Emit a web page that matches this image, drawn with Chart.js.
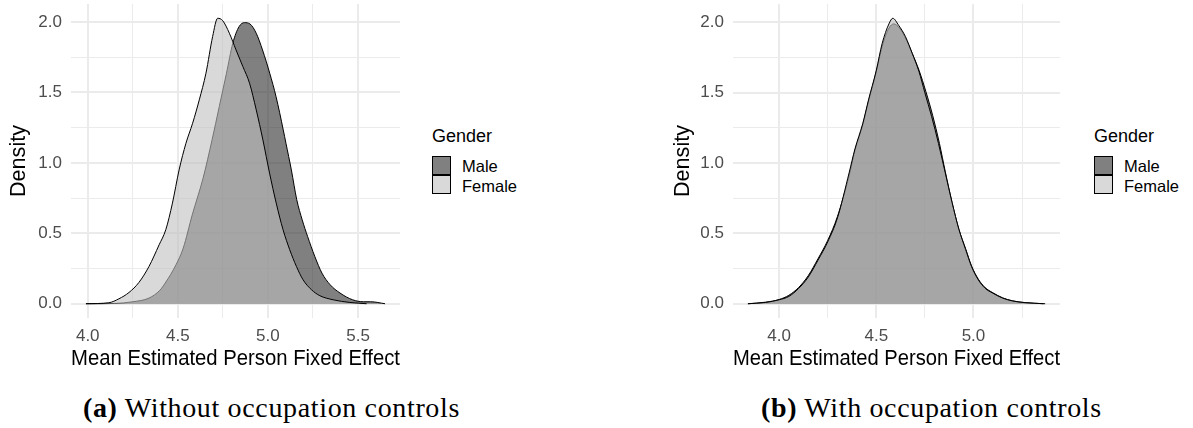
<!DOCTYPE html>
<html>
<head>
<meta charset="utf-8">
<script src="https://cdn.jsdelivr.net/npm/chart.js@4/dist/chart.umd.min.js"></script>
<style>
  html, body { margin: 0; padding: 0; background: #fff; }
  body { width: 1193px; height: 428px; position: relative; overflow: hidden;
         font-family: "Liberation Sans", Arial, sans-serif; }
  canvas.panel { position: absolute; top: 0; }
  .lg { position: absolute; line-height: 1; white-space: nowrap; color: #000; }
  .lg-title { font-size: 18px; }
  .lg-label { font-size: 16.5px; }
  .key { position: absolute; width: 17px; height: 17px; border: 1px solid #000; }
  .cap { position: absolute; font-family: "Liberation Serif", "Times New Roman", serif;
         font-size: 28px; letter-spacing: 0.65px; line-height: 1; white-space: nowrap; color: #000; }
  .cap b { font-weight: bold; }
</style>
</head>
<body>
<canvas id="panelA" class="panel" width="400" height="380" style="left:0px"></canvas>
<canvas id="panelB" class="panel" width="396" height="380" style="left:664px"></canvas>

<!-- legend, panel (a) -->
<div class="lg lg-title" style="left:432px; top:127px">Gender</div>
<div class="key" id="keyMaleA" style="left:432px; top:156px"></div>
<div class="key" id="keyFemaleA" style="left:432px; top:175px"></div>
<div class="lg lg-label" style="left:462px; top:158px">Male</div>
<div class="lg lg-label" style="left:462px; top:178px">Female</div>

<!-- legend, panel (b) -->
<div class="lg lg-title" style="left:1094px; top:127px">Gender</div>
<div class="key" id="keyMaleB" style="left:1094px; top:156px"></div>
<div class="key" id="keyFemaleB" style="left:1094px; top:175px"></div>
<div class="lg lg-label" style="left:1124px; top:158px">Male</div>
<div class="lg lg-label" style="left:1124px; top:178px">Female</div>

<div class="cap" style="left:83px; top:394px"><b>(a)</b> Without occupation controls</div>
<div class="cap" style="left:761px; top:394px"><b>(b)</b> With occupation controls</div>

<script>
// Kernel density estimates of mean person fixed effects, by gender.
// (a) without occupation controls
const maleXA = [3.99, 4.15, 4.25, 4.34, 4.40, 4.43, 4.49, 4.53, 4.58, 4.64, 4.69, 4.73, 4.77, 4.805,
                4.84, 4.87, 4.90, 4.935, 4.97, 5.01, 5.045, 5.085, 5.10, 5.13, 5.16, 5.19, 5.22, 5.26,
                5.30, 5.345, 5.40, 5.47, 5.53, 5.57, 5.65];
const maleYA = [0, 0.002, 0.014, 0.040, 0.095, 0.147, 0.277, 0.395, 0.631, 0.891, 1.163, 1.400, 1.636, 1.849,
                1.967, 1.995, 1.986, 1.920, 1.801, 1.636, 1.470, 1.234, 1.139, 0.950, 0.738, 0.596, 0.478, 0.336,
                0.217, 0.135, 0.076, 0.028, 0.014, 0.014, 0];
const femaleXA = [3.99, 4.117, 4.173, 4.229, 4.284, 4.34, 4.396, 4.433, 4.47, 4.507, 4.545, 4.582, 4.619,
                  4.656, 4.693, 4.721, 4.749, 4.786, 4.823, 4.861, 4.898, 4.935, 4.972, 5.009, 5.046, 5.084,
                  5.121, 5.158, 5.195, 5.242, 5.288, 5.362, 5.455, 5.548];
const femaleYA = [0, 0.007, 0.035, 0.08, 0.151, 0.265, 0.418, 0.525, 0.714, 0.95, 1.139, 1.281, 1.447,
                  1.636, 1.896, 2.026, 2.009, 1.92, 1.801, 1.683, 1.565, 1.376, 1.163, 0.927, 0.714, 0.525,
                  0.383, 0.265, 0.17, 0.099, 0.057, 0.028, 0.009, 0];

// (b) with occupation controls
const maleXB = [3.84, 3.93, 4.0, 4.05, 4.10, 4.15, 4.20, 4.25, 4.30, 4.36, 4.39, 4.43, 4.46, 4.50, 4.53,
                4.565, 4.59, 4.62, 4.65, 4.685, 4.72, 4.755, 4.79, 4.825, 4.855, 4.89, 4.925, 4.96, 4.99,
                5.025, 5.06, 5.10, 5.15, 5.20, 5.26, 5.36];
const maleYB = [0, 0.011, 0.03, 0.06, 0.115, 0.2, 0.32, 0.45, 0.62, 0.91, 1.09, 1.27, 1.44, 1.65, 1.83,
                1.96, 1.99, 1.96, 1.89, 1.78, 1.66, 1.51, 1.34, 1.14, 0.94, 0.72, 0.53, 0.39, 0.27,
                0.175, 0.115, 0.078, 0.042, 0.021, 0.009, 0];
const femaleXB = [3.839, 3.93, 4.0, 4.05, 4.10, 4.15, 4.20, 4.25, 4.30, 4.36, 4.39, 4.43, 4.46, 4.50, 4.53,
                  4.565, 4.585, 4.615, 4.65, 4.685, 4.72, 4.75, 4.785, 4.82, 4.855, 4.89, 4.925, 4.96, 4.99,
                  5.025, 5.06, 5.10, 5.15, 5.20, 5.26, 5.369];
const femaleYB = [0, 0.009, 0.028, 0.052, 0.108, 0.19, 0.31, 0.44, 0.61, 0.93, 1.10, 1.28, 1.45, 1.66, 1.85,
                  1.99, 2.03, 1.98, 1.90, 1.78, 1.65, 1.50, 1.33, 1.14, 0.93, 0.72, 0.53, 0.385, 0.265,
                  0.17, 0.11, 0.075, 0.04, 0.02, 0.008, 0];

// axis breaks
const xMajorA = [4.0, 4.5, 5.0, 5.5];
const xMinorA = [4.25, 4.75, 5.25];
const xMajorB = [4.0, 4.5, 5.0];
const xMinorB = [4.25, 4.75, 5.25];
const yMajor = [0.0, 0.5, 1.0, 1.5, 2.0];
const yMinor = [0.25, 0.75, 1.25, 1.75];

const MALE_FILL = 'rgba(43,43,43,0.6)';
const FEMALE_FILL = 'rgba(192,192,192,0.6)';
const GRID = '#ebebeb';
const TICK_FONT = { family: '"Liberation Sans", Arial, sans-serif', size: 17 };
const TITLE_FONT = { family: '"Liberation Sans", Arial, sans-serif', size: 21.6, lineHeight: 1.2 };

['keyMaleA', 'keyMaleB'].forEach(id => document.getElementById(id).style.background = MALE_FILL);
['keyFemaleA', 'keyFemaleB'].forEach(id => document.getElementById(id).style.background = FEMALE_FILL);

function points(xs, ys) { return xs.map((x, i) => ({ x: x, y: ys[i] })); }

// 5% expansion on each side, as ggplot does
function expand(lo, hi) { const d = (hi - lo) * 0.05; return [lo - d, hi + d]; }

function breaksScale(major, minor, lim, axisWidth, axisHeight, titleText, titlePad, tickPad) {
  const majorSet = new Set(major);
  const all = major.concat(minor).sort((a, b) => a - b);
  return {
    type: 'linear',
    min: lim[0], max: lim[1],
    border: { display: false },
    grid: {
      color: GRID,
      drawTicks: false,
      lineWidth: c => (c.tick && majorSet.has(c.tick.value)) ? 2 : 1
    },
    ticks: {
      autoSkip: false, maxRotation: 0, minRotation: 0,
      color: '#4d4d4d', font: TICK_FONT, padding: tickPad,
      callback: v => majorSet.has(v) ? v.toFixed(1) : ''
    },
    title: { display: true, text: titleText, color: '#000', font: TITLE_FONT, padding: titlePad },
    afterBuildTicks: s => { s.ticks = all.map(v => ({ value: v })); },
    afterFit: s => {
      if (axisWidth != null) { s.width = axisWidth; s.paddingTop = 0; s.paddingBottom = 0; }
      if (axisHeight != null) { s.height = axisHeight; s.paddingLeft = 0; s.paddingRight = 0; }
    }
  };
}

function densityPanel(id, mx, my, fx, fy, xMajor, xMinor, yAxisWidth) {
  const xs = mx.concat(fx), ys = my.concat(fy);
  const xLim = expand(Math.min(...xs), Math.max(...xs));
  const yLim = expand(0, Math.max(...ys));
  return new Chart(document.getElementById(id), {
    type: 'line',
    data: {
      datasets: [
        { label: 'Male', data: points(mx, my), backgroundColor: MALE_FILL, fill: 'origin', order: 1 },
        { label: 'Female', data: points(fx, fy), backgroundColor: FEMALE_FILL, fill: 'origin', order: 0 }
      ]
    },
    options: {
      responsive: false, animation: false, devicePixelRatio: 1,
      layout: { padding: { top: 4, right: 0, bottom: 0, left: 0 } },
      elements: {
        point: { radius: 0, hoverRadius: 0 },
        line: { borderColor: '#000', borderWidth: 1, cubicInterpolationMode: 'monotone' }
      },
      scales: {
        x: Object.assign({ position: 'bottom' },
          breaksScale(xMajor, xMinor, xLim, null, 62, 'Mean Estimated Person Fixed Effect', { top: 0, bottom: 8 }, 8)),
        y: Object.assign({ position: 'left' },
          breaksScale(yMajor, yMinor, yLim, yAxisWidth, null, 'Density', { top: 6, bottom: 0 }, 9))
      },
      plugins: { legend: { display: false }, tooltip: { enabled: false } }
    }
  });
}

densityPanel('panelA', maleXA, maleYA, femaleXA, femaleYA, xMajorA, xMinorA, 71);
densityPanel('panelB', maleXB, maleYB, femaleXB, femaleYB, xMajorB, xMinorB, 69);
</script>
</body>
</html>
